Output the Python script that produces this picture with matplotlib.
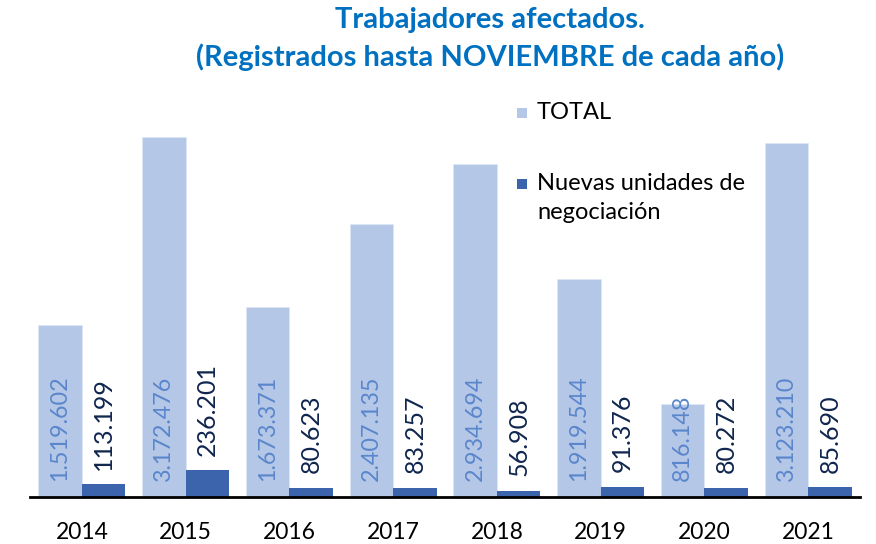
import matplotlib
matplotlib.use("Agg")
import matplotlib.pyplot as plt
from matplotlib.patches import Rectangle

years = ["2014", "2015", "2016", "2017", "2018", "2019", "2020", "2021"]
total = [1519602, 3172476, 1673371, 2407135, 2934694, 1919544, 816148, 3123210]
nuevas = [113199, 236201, 80623, 83257, 56908, 91376, 80272, 85690]
series_names = ["TOTAL", "Nuevas unidades de\nnegociación"]

def fmt(v):
    return f"{v:,}".replace(",", ".")

plt.rcParams['font.family'] = ['Lato', 'DejaVu Sans']

W, H = 876, 544
fig = plt.figure(figsize=(W / 100, H / 100), dpi=100)
ax = fig.add_axes([30 / W, 47 / H, 830 / W, 407 / H])

light = "#B4C7E7"
dark = "#3C64AC"
x = list(range(len(years)))
bw = 0.42
xl = [i - bw / 2 for i in x]
xd = [i + bw / 2 for i in x]
ax.bar(xl, total, width=bw, color=light, edgecolor="#DCE6F4", linewidth=0.6)
ax.bar(xd, nuevas, width=bw, color=dark)

for xi, v in zip(xl, total):
    ax.annotate(fmt(v), (xi, 0), xytext=(0, 11.5), textcoords="offset points",
                rotation=90, ha="center", va="bottom", fontsize=16.8, color="#5A86CC")
for xi, v in zip(xd, nuevas):
    ax.annotate(fmt(v), (xi, v), xytext=(0, 10.5), textcoords="offset points",
                rotation=90, ha="center", va="bottom", fontsize=18, color="#10264F")

ax.set_xlim(-0.5, len(years) - 0.5)
ax.set_ylim(0, 3172476 * 407 / 360)
ax.set_xticks(x)
ax.set_xticklabels(years, fontsize=16.5)
ax.tick_params(axis="x", length=0, pad=18)
ax.set_yticks([])
for s in ["top", "right", "left"]:
    ax.spines[s].set_visible(False)
ax.spines["bottom"].set_linewidth(2)
ax.spines["bottom"].set_color("black")

fig.text(490 / W, 1 - 20 / H, "Trabajadores afectados.", ha="center", va="center",
         fontsize=21, fontweight="bold", color="#0070C0")
fig.text(490 / W, 1 - 57 / H, "(Registrados hasta NOVIEMBRE de cada año)", ha="center", va="center",
         fontsize=21, fontweight="bold", color="#0070C0")

# legend drawn manually
for color, name, yc in zip([light, dark], series_names, [113, 184]):
    fig.patches.append(Rectangle((517 / W, 1 - (yc + 5) / H), 10 / W, 10 / H,
                                 facecolor=color, edgecolor="none",
                                 transform=fig.transFigure, figure=fig))
    fig.text(537 / W, 1 - (yc - 11) / H, name, ha="left", va="top", fontsize=17,
             linespacing=1.45, color="black")

fig.savefig("out.png", dpi=100)
